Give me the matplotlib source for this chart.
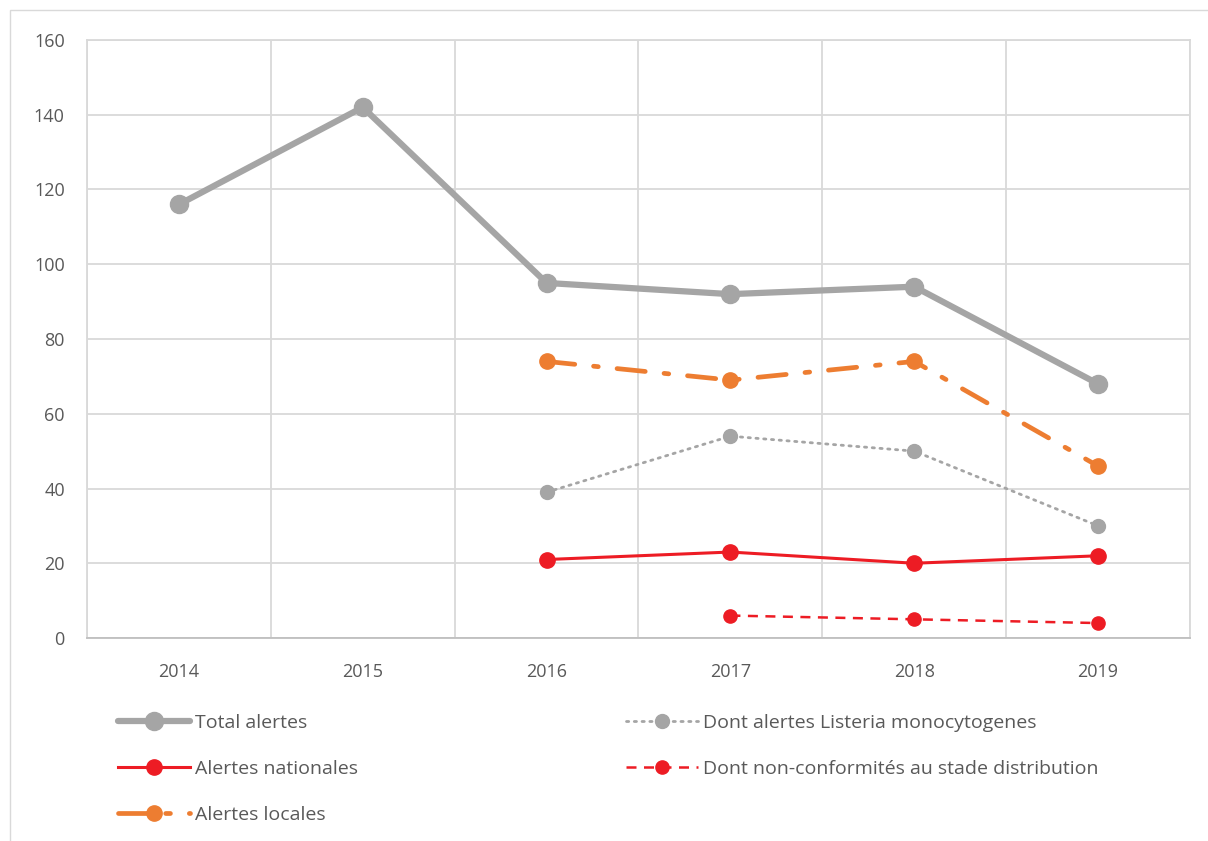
import numpy as np
import matplotlib.pyplot as plt
from matplotlib.patches import Rectangle

years = ["2014", "2015", "2016", "2017", "2018", "2019"]
total = [116, 142, 95, 92, 94, 68]
nationales = [np.nan, np.nan, 21, 23, 20, 22]
locales = [np.nan, np.nan, 74, 69, 74, 46]
listeria = [np.nan, np.nan, 39, 54, 50, 30]
non_conf = [np.nan, np.nan, np.nan, 6, 5, 4]

plt.rcParams['font.family'] = ['Open Sans', 'DejaVu Sans']
txt = "#595959"

fig = plt.figure(figsize=(12.08, 8.41), dpi=100)
fig.patches.append(Rectangle((10 / 1208, -0.01), 1.02, 1 - 10 / 841 + 0.01,
                             transform=fig.transFigure, fill=False,
                             edgecolor="#D9D9D9", lw=1))
ax = fig.add_axes([87 / 1208, 1 - 638 / 841, (1190 - 87) / 1208, (638 - 40) / 841])

x = np.arange(len(years))
grey = "#A5A5A5"
red = "#ED1C24"
orange = "#ED7D31"

h_total, = ax.plot(x, total, color=grey, lw=4.5, marker="o", ms=13, label="Total alertes",
                   solid_capstyle="round")
h_nat, = ax.plot(x, nationales, color=red, lw=2.2, marker="o", ms=11, label="Alertes nationales")
h_loc, = ax.plot(x, locales, color=orange, lw=3.4, marker="o", ms=11,
                 dashes=(6, 4, 1, 4), dash_capstyle="round", label="Alertes locales")
h_lis, = ax.plot(x, listeria, color=grey, lw=2, marker="o", ms=10,
                 dashes=(0.8, 2), dash_capstyle="round", label="Dont alertes Listeria monocytogenes")
h_nc, = ax.plot(x, non_conf, color=red, lw=1.8, marker="o", ms=9.5,
                dashes=(4, 3), label="Dont non-conformités au stade distribution")

ax.set_xlim(-0.5, 5.5)
ax.set_ylim(0, 160)
ax.set_yticks(np.arange(0, 161, 20))
ax.set_xticks(x)
ax.set_xticklabels(years)
ax.set_xticks(np.arange(-0.5, 5.6, 1), minor=True)
ax.grid(True, which="minor", axis="x", color="#D9D9D9", lw=1.3)
ax.grid(True, which="major", axis="y", color="#D9D9D9", lw=1.3)
ax.set_axisbelow(True)
ax.tick_params(which="both", length=0, labelsize=13, colors=txt, pad=18)
ax.tick_params(axis="y", pad=16)
for s in ax.spines.values():
    s.set_color("#D9D9D9")
    s.set_linewidth(1.3)
ax.spines["bottom"].set_color("#BFBFBF")

leg_kw = dict(frameon=False, fontsize=14, labelcolor=txt, handlelength=3.7,
              handletextpad=0.25, labelspacing=1.45, borderaxespad=0)
fig.legend(handles=[h_total, h_nat, h_loc], loc="upper left",
           bbox_to_anchor=(110 / 1208, 1 - 706 / 841), **leg_kw)
fig.legend(handles=[h_lis, h_nc], loc="upper left",
           bbox_to_anchor=(618 / 1208, 1 - 706 / 841), **leg_kw)

fig.savefig("out.png", dpi=100)
